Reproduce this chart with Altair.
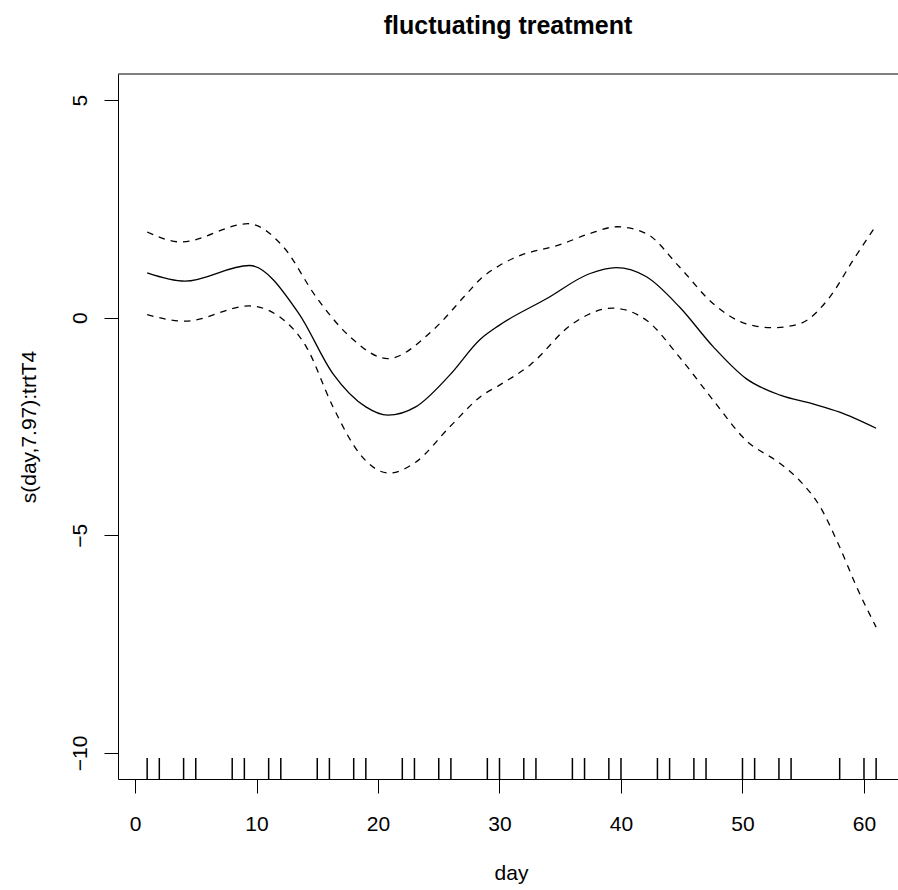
import altair as alt
import pandas as pd

# ---- data ----
fit_day = [1, 4.1, 9.4, 13.5, 16.3, 19.0, 20.8, 23.1, 25.9, 28.4, 30.0, 33.9,
           37.4, 39.6, 42.1, 44.8, 47.6, 50.3, 53.1, 55.8, 58.0, 61]
fit_val = [1.03, 0.84, 1.20, 0.09, -1.29, -2.05, -2.24, -2.05, -1.32, -0.50, -0.17, 0.44,
           1.01, 1.15, 0.94, 0.25, -0.67, -1.40, -1.78, -1.98, -2.17, -2.54]

upper_day = [1, 3.8, 9.3, 12.2, 14.9, 17.7, 20.8, 24.5, 27.3, 28.4, 30.0, 31.1,
             35.2, 37.4, 39.7, 42.1, 44.8, 47.6, 50.3, 52.5, 54.7, 57.2, 59.1, 61]
upper_val = [1.97, 1.74, 2.16, 1.63, 0.48, -0.44, -0.94, -0.29, 0.55, 0.88, 1.20, 1.36,
             1.70, 1.93, 2.09, 1.93, 1.17, 0.32, -0.14, -0.23, -0.14, 0.48, 1.32, 2.12]

lower_day = [1, 4.1, 9.4, 11.9, 14.1, 16.3, 18.5, 20.9, 23.1, 25.9, 28.6, 30.0, 32.5,
             36.0, 39.3, 42.1, 44.8, 47.6, 50.3, 53.1, 54.7, 56.4, 58.0, 59.4, 61]
lower_val = [0.07, -0.08, 0.27, 0.02, -0.67, -2.05, -3.13, -3.57, -3.32, -2.51, -1.78, -1.55, -1.09,
             -0.14, 0.22, -0.06, -0.90, -1.90, -2.82, -3.35, -3.74, -4.35, -5.27, -6.19, -7.11]

rug_days = [1, 2, 4, 5, 8, 9, 11, 12, 15, 16, 18, 19, 22, 23, 25, 26, 29, 30, 32, 33,
            36, 37, 39, 40, 43, 44, 46, 47, 50, 51, 53, 54, 58, 60, 61]

x_ticks = [0, 10, 20, 30, 40, 50, 60]
y_ticks = [-10, -5, 0, 5]

title_text = "fluctuating treatment"
x_title = "day"
y_title = "s(day,7.97):trtT4"

# ---- layout ----
FONT = "Liberation Sans"
W, H = 780, 705

fit = pd.DataFrame({"day": fit_day, "s": fit_val})
bands = pd.concat([
    pd.DataFrame({"day": upper_day, "s": upper_val, "band": "upper"}),
    pd.DataFrame({"day": lower_day, "s": lower_val, "band": "lower"}),
])
rug = pd.DataFrame({"day": rug_days})

xs = alt.Scale(domain=[-1.4, 62.8], nice=False, zero=False)
ys = alt.Scale(domain=[-10.6, 5.6], nice=False, zero=False)

x_axis = alt.Axis(
    values=x_ticks, title=x_title, grid=False,
    tickSize=14, tickColor="black", tickWidth=1,
    domainColor="black", domainWidth=1,
    labelFont=FONT, labelFontSize=21, labelColor="black",
    labelPadding=37, labelBaseline="alphabetic", labelFlush=False, labelOverlap=False,
    titleFont=FONT, titleFontSize=21, titleFontWeight="normal", titleColor="black",
    titleBaseline="alphabetic", titleAlign="center", titleX=393, titleY=100,
)
y_axis = alt.Axis(
    values=y_ticks, title=y_title, grid=False,
    tickSize=14, tickColor="black", tickWidth=1,
    domainColor="black", domainWidth=1,
    labelFont=FONT, labelFontSize=21, labelColor="black",
    labelAngle=270, labelAlign="center", labelBaseline="alphabetic",
    labelPadding=18, labelFlush=False, labelOverlap=False,
    titleFont=FONT, titleFontSize=21, titleFontWeight="normal", titleColor="black",
    titleAngle=270, titleAlign="center", titleBaseline="alphabetic",
    titleX=-83, titleY=H / 2,
)

fit_line = alt.Chart(fit).mark_line(color="black", strokeWidth=1.3, interpolate="monotone").encode(
    x=alt.X("day:Q", scale=xs, axis=x_axis),
    y=alt.Y("s:Q", scale=ys, axis=y_axis),
)

band_lines = alt.Chart(bands).mark_line(
    color="black", strokeWidth=1.3, strokeDash=[6.5, 6], interpolate="monotone"
).encode(
    x=alt.X("day:Q", scale=xs, axis=x_axis),
    y=alt.Y("s:Q", scale=ys, axis=y_axis),
    detail="band:N",
)

rug_marks = alt.Chart(rug).mark_rule(color="black", strokeWidth=1.5).encode(
    x=alt.X("day:Q", scale=xs, axis=x_axis),
    y=alt.value(H),
    y2=alt.value(H - 21),
)

top_border = alt.Chart(pd.DataFrame({"a": [0]})).mark_rule(color="black", strokeWidth=1).encode(
    x=alt.value(0), x2=alt.value(W), y=alt.value(0)
)

chart = alt.layer(rug_marks, band_lines, fit_line, top_border).properties(
    width=W, height=H,
    title=alt.TitleParams(
        title_text, font=FONT, fontSize=25, fontWeight="bold", color="black",
        anchor="middle", frame="group", baseline="alphabetic", offset=15,
    ),
    autosize=alt.AutoSizeParams(type="none"),
    padding={"left": 118, "top": 74, "right": 0, "bottom": 111},
    background="white",
).configure_view(stroke=None)

chart.save("out.html", embed_options={"renderer": "svg", "actions": False})
